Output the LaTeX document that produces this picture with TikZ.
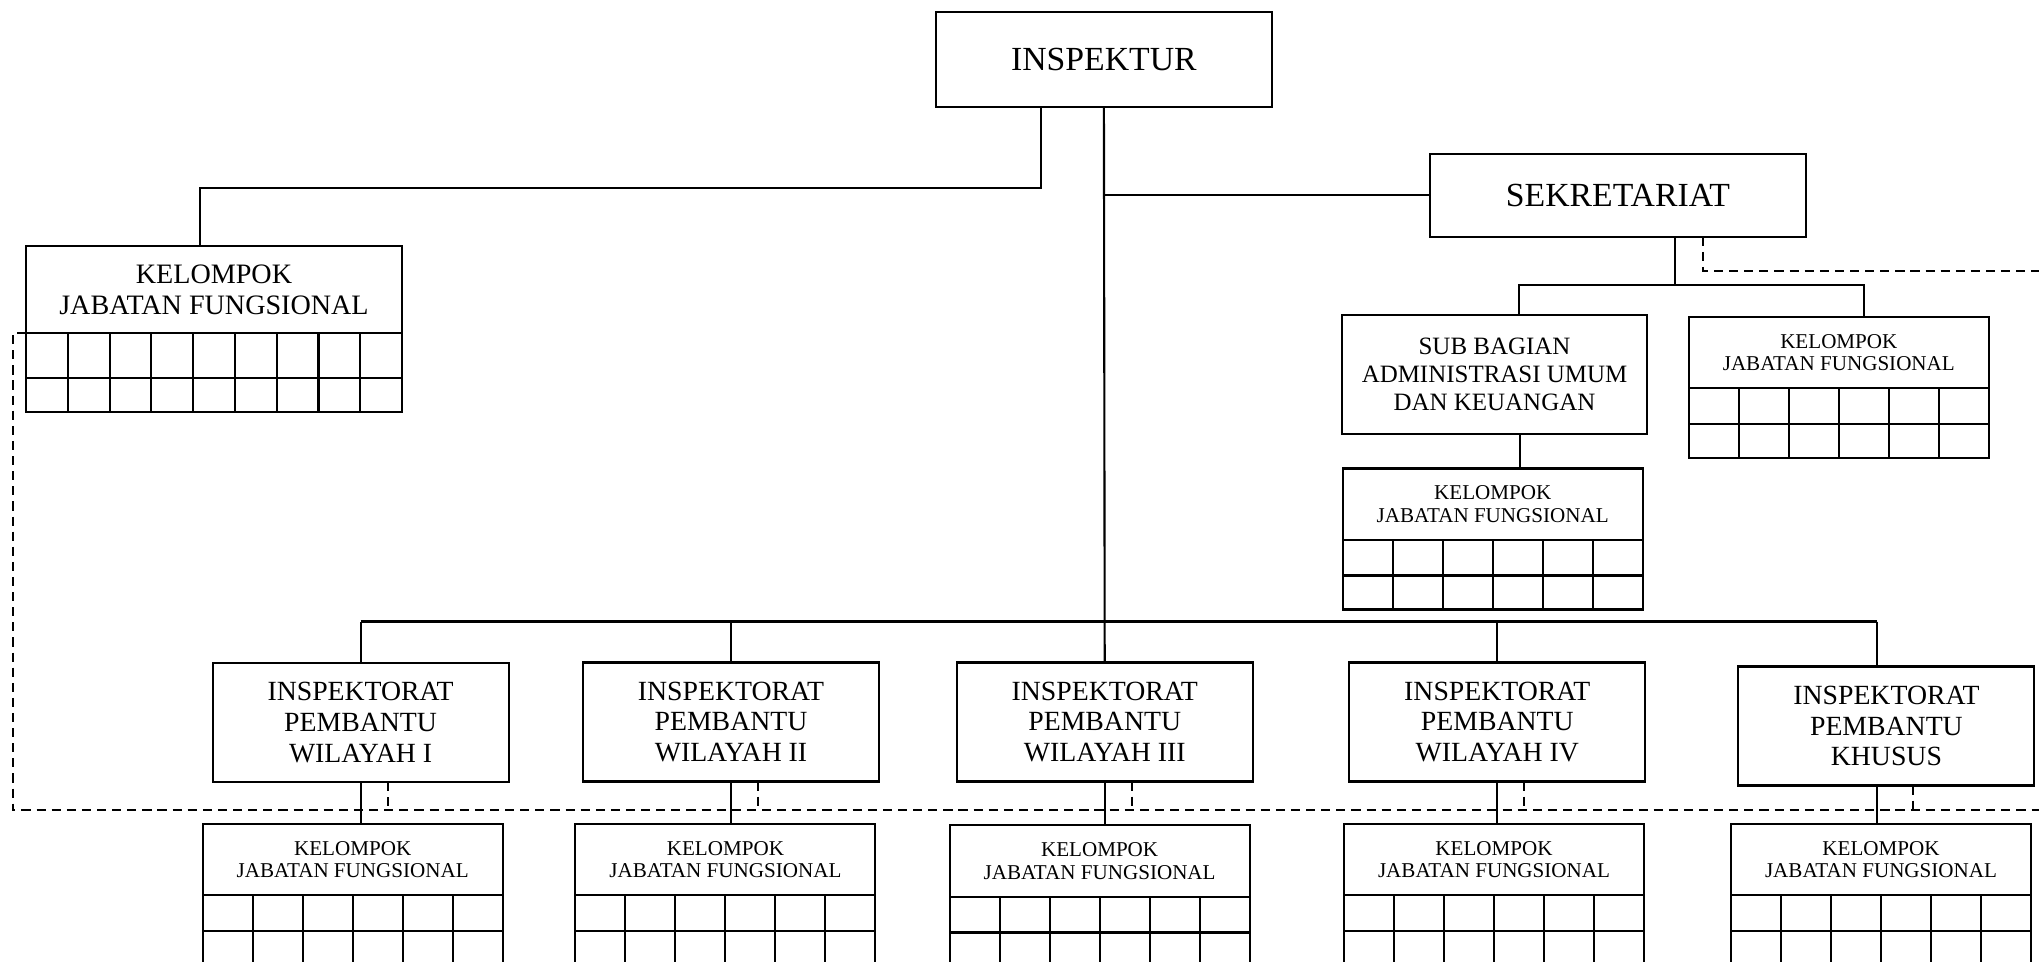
\documentclass[tikz,border=0pt]{standalone}
\usepackage{fontspec}
\setmainfont{Liberation Serif}
\usetikzlibrary{calc}

\begin{document}
\begin{tikzpicture}[x=1cm, y=-1cm, line width=0.6pt,
box/.style={draw, rectangle, align=center, inner sep=1pt, outer sep=0pt},
head/.style={box, font=\fontsize{9.6}{11}\selectfont},
unit/.style={box, minimum width=2.96cm, minimum height=1.19cm, font=\fontsize{7.9}{8.7}\selectfont},
kjf/.style={box, minimum width=3cm, minimum height=0.715cm, font=\fontsize{6}{6.4}\selectfont},
dashline/.style={dash pattern=on 2.6pt off 1.7pt, line width=0.55pt}]
\useasboundingbox (0,0) rectangle (20.39,9.62);
\clip (0,0) rectangle (20.39,9.62);

% top
\node[head, minimum width=3.36cm, minimum height=0.956cm] (insp) at (11.039,0.595) {INSPEKTUR};
\node[head, minimum width=3.76cm, minimum height=0.827cm] (sekr) at (16.18,1.953) {SEKRETARIAT};
\node[box, minimum width=3.056cm, minimum height=1.19cm, font=\fontsize{7.1}{7.9}\selectfont] (sbauk) at (14.945,3.745) {SUB BAGIAN\\ADMINISTRASI UMUM\\DAN KEUANGAN};
\node[kjf] (kjfs) at (18.388,3.525) {KELOMPOK\\JABATAN FUNGSIONAL};
\node[kjf] (kjfa) at (14.927,5.043) {KELOMPOK\\JABATAN FUNGSIONAL};
\node[kjf, minimum width=3.76cm, minimum height=0.873cm, font=\fontsize{8}{8.9}\selectfont] (kjf0) at (2.14,2.897) {KELOMPOK\\JABATAN FUNGSIONAL};

% inspektorat pembantu
\foreach \n/\px/\py/\t in {1/3.606/7.225/WILAYAH I, 2/7.31/7.22/WILAYAH II, 3/11.047/7.22/WILAYAH III, 4/14.973/7.22/WILAYAH IV, 5/18.864/7.26/KHUSUS}
	\node[unit] (ip\n) at (\px,\py) {INSPEKTORAT\\PEMBANTU\\\t};
\foreach \n/\px/\py in {1/3.527/8.594, 2/7.254/8.594, 3/10.996/8.61, 4/14.94/8.594, 5/18.81/8.594}
	\node[kjf] (kjf\n) at (\px,\py) {KELOMPOK\\JABATAN FUNGSIONAL};

% grids under kjf
\foreach \k/\w/\m/\r in {kjf0/3.76/8/0.45, kjfs/3/5/0.355, kjfa/3/5/0.355, kjf1/3/5/0.357, kjf2/3/5/0.357, kjf3/3/5/0.357, kjf4/3/5/0.357, kjf5/3/5/0.357} {
	\draw (\k.south west) rectangle ++(\w,\r+0.34);
	\draw (\k.south west) ++(0,\r) -- ++(\w,0);
	\foreach \i in {1,...,\m}
		\draw ($(\k.south west)+({\i*\w/(\m+1)},0)$) -- ++(0,\r+0.34);
}

% lines
\coordinate (lj) at (10.41,1.877);
\coordinate (sj) at (16.75,2.85);
\coordinate (bus) at (0,6.217);
\coordinate (dl) at (0.127,8.10);
\coordinate (k5) at (18.77,0);
\draw (insp.south -| lj) -- (lj) -| ([xshift=-0.136cm]kjf0.north);
\draw (insp.south) -- (ip3.north);
\draw (sekr.west) -- (sekr.west -| insp.south);
\draw (sekr.south -| sj) -- (sj);
\draw ([xshift=0.245cm]sbauk.north) |- (sj) -| ([xshift=0.252cm]kjfs.north);
\draw ([xshift=0.255cm]sbauk.south) -- ++(0,0.35);
\draw[line width=0.8pt] (ip1.north |- bus) -- (k5 |- bus);
\draw (k5 |- bus) -- (k5 |- ip5.north);
\draw (k5 |- ip5.south) -- (k5 |- kjf5.north);
\foreach \n in {1,2,4}
	\draw (ip\n.north) -- (ip\n.north |- bus);
\foreach \n in {1,...,4}
	\draw (ip\n.south) -- (ip\n.south |- kjf\n.north);
\foreach \n in {1,...,5} {
	\path ([xshift=0.27cm]ip\n.south) coordinate (t);
	\draw[dashline] (t) -- (t |- dl);
}
\draw[dashline] (kjf0.south west) -| (dl) -- (20.5,8.10);
\draw[dashline] ([xshift=0.847cm]sekr.south) |- (20.5,2.707);
\end{tikzpicture}
\end{document}
